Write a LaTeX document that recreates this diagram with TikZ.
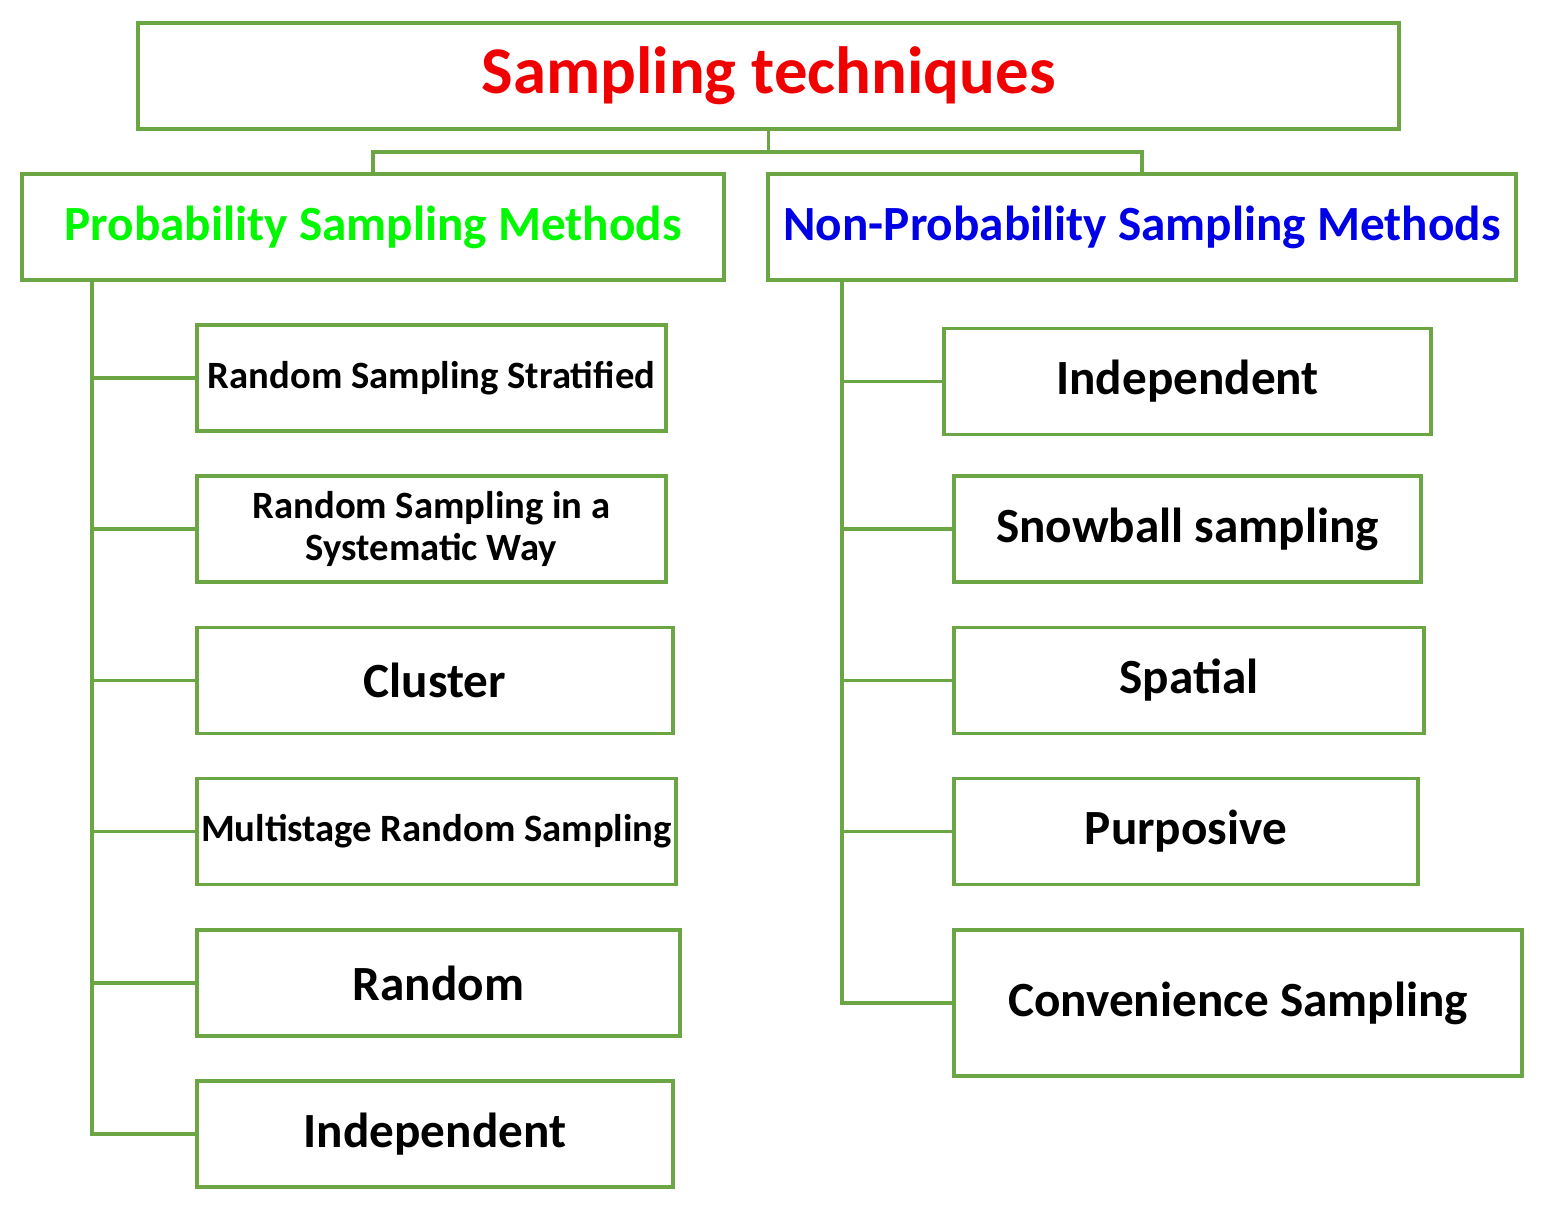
\documentclass[tikz,border=0pt]{standalone}
\usepackage{fontspec}
\setmainfont{Carlito}
\usepackage{tikz}

\definecolor{linegreen}{HTML}{6CA544}
\definecolor{headgreen}{HTML}{00F800}
\definecolor{headblue}{HTML}{0000E6}
\definecolor{headred}{HTML}{F00000}

\begin{document}
\begin{tikzpicture}[
			mynode/.style={draw=linegreen, line width=0.9pt, inner sep=0pt, align=center, minimum height=1.06cm},
			bigtxt/.style={font=\fontsize{14}{17}\selectfont\bfseries},
			smalltxt/.style={font=\fontsize{11}{12}\selectfont\bfseries},
			link/.style={draw=linegreen, line width=0.9pt}
		]
		\useasboundingbox (0,0) rectangle (15.47,-12.11);

		\node[mynode, minimum width=12.61cm, font=\fontsize{19}{23}\selectfont\bfseries, text=headred] (title) at (7.685,-0.76) {Sampling techniques};

		\node[mynode, minimum width=7.02cm, bigtxt, text=headgreen] (prob) at (3.73,-2.27) {Probability Sampling Methods};
		\node[mynode, minimum width=7.48cm, bigtxt, text=headblue] (nonprob) at (11.42,-2.27) {Non-Probability Sampling Methods};

		\node[mynode, minimum width=4.69cm, smalltxt] (p1) at (4.315,-3.78) {Random Sampling Stratified};
		\node[mynode, minimum width=4.69cm, smalltxt] (p2) at (4.315,-5.29) {Random Sampling in a\\Systematic Way};
		\node[mynode, minimum width=4.76cm, bigtxt] (p3) at (4.35,-6.805) {Cluster};
		\node[mynode, minimum width=4.79cm, smalltxt] (p4) at (4.365,-8.315) {Multistage Random Sampling};
		\node[mynode, minimum width=4.83cm, bigtxt] (p5) at (4.385,-9.83) {Random};
		\node[mynode, minimum width=4.76cm, bigtxt] (p6) at (4.35,-11.34) {Independent};

		\node[mynode, minimum width=4.87cm, bigtxt] (n1) at (11.875,-3.815) {Independent};
		\node[mynode, minimum width=4.67cm, bigtxt] (n2) at (11.875,-5.29) {Snowball sampling};
		\node[mynode, minimum width=4.70cm, bigtxt] (n3) at (11.89,-6.805) {Spatial};
		\node[mynode, minimum width=4.64cm, bigtxt] (n4) at (11.86,-8.315) {Purposive};
		\node[mynode, minimum width=5.68cm, minimum height=1.46cm, bigtxt] (n5) at (12.38,-10.03) {Convenience Sampling};

		% top split
		\coordinate (split) at (7.685,-1.52);
		\draw[link] (title.south) -- (split);
		\draw[link] (split) -| (prob.north);
		\draw[link] (split) -| (nonprob.north);

		% left trunk
		\coordinate (ltrunk) at (0.92,-2.80);
		\draw[link] (ltrunk) |- (p6.west);
		\foreach \n in {p1,p2,p3,p4,p5}
			\draw[link] (ltrunk |- \n.west) -- (\n.west);

		% right trunk
		\coordinate (rtrunk) at (8.42,-2.80);
		\draw[link] (rtrunk) |- (n5.west);
		\foreach \n in {n1,n2,n3,n4}
			\draw[link] (rtrunk |- \n.west) -- (\n.west);

	\end{tikzpicture}
\end{document}
